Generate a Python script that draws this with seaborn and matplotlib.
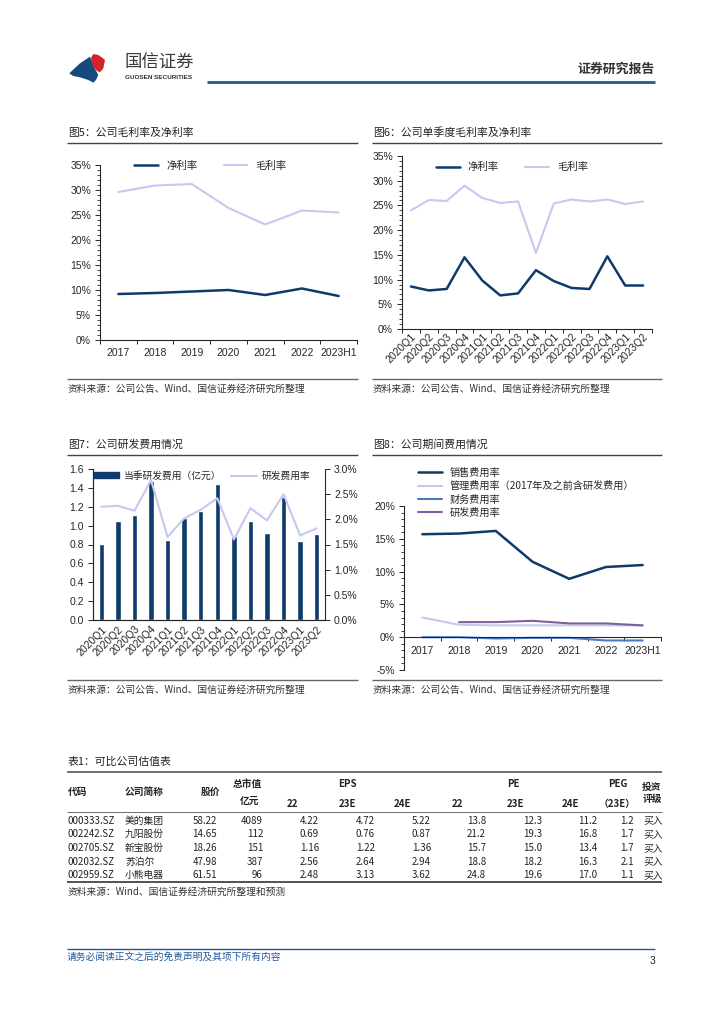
import numpy as np
import pandas as pd
import matplotlib
matplotlib.use('Agg')
import matplotlib.pyplot as plt
import seaborn as sns
from matplotlib.patches import Polygon, Patch
from matplotlib.lines import Line2D
from matplotlib.ticker import FuncFormatter, MultipleLocator, FixedLocator

# 数据
years = ['2017', '2018', '2019', '2020', '2021', '2022', '2023H1']
quarters = ['2020Q1', '2020Q2', '2020Q3', '2020Q4', '2021Q1', '2021Q2', '2021Q3',
            '2021Q4', '2022Q1', '2022Q2', '2022Q3', '2022Q4', '2023Q1', '2023Q2']

net_margin_y = [9.2, 9.4, 9.7, 10.0, 9.0, 10.3, 8.8]
gross_margin_y = [29.6, 30.9, 31.2, 26.4, 23.1, 25.9, 25.5]

net_margin_q = [8.6, 7.8, 8.1, 14.5, 9.8, 6.8, 7.2, 11.9, 9.7, 8.3, 8.1, 14.7, 8.8, 8.8]
gross_margin_q = [24.0, 26.1, 25.9, 29.0, 26.5, 25.5, 25.8, 15.4, 25.4, 26.2, 25.8, 26.2, 25.3, 25.8]

rd_expense_q = [0.81, 1.05, 1.11, 1.47, 0.85, 1.08, 1.15, 1.44, 0.89, 1.05, 0.92, 1.30, 0.84, 0.91]
rd_rate_q = [2.25, 2.27, 2.17, 2.78, 1.65, 2.02, 2.19, 2.42, 1.60, 2.22, 1.98, 2.50, 1.68, 1.82]

sales_rate = [15.7, 15.8, 16.2, 11.5, 8.9, 10.7, 11.0]
admin_rate = [3.0, 1.9, 1.8, 1.8, 1.8, 1.8, 1.8]
fin_rate = [0.0, 0.0, -0.2, -0.1, -0.1, -0.5, -0.5]
rd_rate_y = [np.nan, 2.3, 2.3, 2.5, 2.1, 2.1, 1.8]

# 表1
codes = ['000333.SZ', '002242.SZ', '002705.SZ', '002032.SZ', '002959.SZ']
names = ['美的集团', '九阳股份', '新宝股份', '苏泊尔', '小熊电器']
price = [58.22, 14.65, 18.26, 47.98, 61.51]
mktcap = [4089, 112, 151, 387, 96]
eps_22 = [4.22, 0.69, 1.16, 2.56, 2.48]
eps_23 = [4.72, 0.76, 1.22, 2.64, 3.13]
eps_24 = [5.22, 0.87, 1.36, 2.94, 3.62]
pe_22 = [13.8, 21.2, 15.7, 18.8, 24.8]
pe_23 = [12.3, 19.3, 15.0, 18.2, 19.6]
pe_24 = [11.2, 16.8, 13.4, 16.3, 17.0]
peg_23 = [1.2, 1.7, 1.7, 2.1, 1.1]
rating = ['买入', '买入', '买入', '买入', '买入']

NAVY = '#0e3a6c'
LAV = '#c6c8f0'
BLUE = '#4a78c8'
PURPLE = '#7d5f9e'
BRAND = '#1f5a96'

sns.set_style('ticks')
plt.rcParams['font.family'] = ['Liberation Sans', 'Noto Sans CJK SC']
plt.rcParams['axes.linewidth'] = 0.8
plt.rcParams['xtick.labelsize'] = 7.5
plt.rcParams['ytick.labelsize'] = 7.5
CJK = ['Noto Sans CJK SC', 'Liberation Sans']

W, H = 724, 1024
fig = plt.figure(figsize=(7.24, 10.24), dpi=100)

# 页面底层（像素坐标）
bg = fig.add_axes([0, 0, 1, 1])
bg.set_xlim(0, W)
bg.set_ylim(H, 0)
bg.axis('off')


def rect(l, t, r, b):
    return [l / W, 1 - b / H, (r - l) / W, (b - t) / H]


def hline(x0, x1, y, lw=1.0, color='#555555'):
    bg.plot([x0, x1], [y, y], color=color, lw=lw, solid_capstyle='butt')


# 页眉
bg.add_patch(Polygon([(69.3, 73.3), (80, 63.3), (90, 56.7), (91.7, 60.7), (93.3, 66),
                      (96, 70.7), (98.3, 75), (96, 80), (93.3, 82.7), (88.3, 80),
                      (80, 77.3), (73.3, 76)], closed=True, color='#17497e', lw=0))
bg.add_patch(Polygon([(91, 58), (93.3, 54), (98.3, 55), (101.7, 57.3), (105, 60),
                      (103.3, 68.3), (100, 72.3), (96.7, 70.7), (93.3, 66.7),
                      (91.7, 61.7)], closed=True, color='#d2232a', lw=0))
bg.text(125, 63, '国信证券', fontsize=12.5, color='#3a3a3a', va='center', ha='left', family=CJK)
bg.text(125, 77.5, 'GUOSEN SECURITIES', fontsize=4.6, weight='bold', color='#333333',
        va='center', ha='left')
hline(207, 655, 82, lw=2.0, color=BRAND)
bg.text(655, 69, '证券研究报告', fontsize=9.3, weight='bold', color='#333333',
        va='center', ha='right', family=CJK)

# 图标题与来源
src = '资料来源：公司公告、Wind、国信证券经济研究所整理'
for x0, x1, ty, title in [(67, 358, 133, '图5：公司毛利率及净利率'),
                          (372, 662, 133, '图6：公司单季度毛利率及净利率'),
                          (67, 358, 445, '图7：公司研发费用情况'),
                          (372, 662, 445, '图8：公司期间费用情况')]:
    bg.text(x0 + 1, ty, title, fontsize=7.8, color='#222222', va='center', ha='left', family=CJK)
    hline(x0, x1, ty + 10, lw=1.0, color='#444444')
    sy = 379 if ty < 300 else 680
    hline(x0, x1, sy, lw=1.0, color='#666666')
    bg.text(x0 + 1, sy + 9.5, src, fontsize=7, color='#333333', va='center', ha='left', family=CJK)

pct0 = FuncFormatter(lambda v, p: f'{v:.0f}%')


def style_cat_axis(ax, n):
    ax.set_xlim(-0.5, n - 0.5)
    ax.xaxis.set_minor_locator(FixedLocator(np.arange(-0.5, n, 1.0)))
    ax.tick_params(axis='x', which='major', length=0, pad=6)
    ax.tick_params(axis='x', which='minor', length=3, width=0.7, direction='out')
    ax.tick_params(axis='y', which='major', length=3.5, width=0.7, direction='out', pad=3)
    ax.tick_params(axis='y', which='minor', length=2, width=0.6, direction='out')
    ax.set_xlabel('')
    ax.set_ylabel('')


# 图5
ax5 = fig.add_axes(rect(100, 165, 357, 340))
df5 = pd.DataFrame({'year': years, 'net': net_margin_y, 'gross': gross_margin_y})
sns.lineplot(data=df5, x='year', y='net', ax=ax5, color=NAVY, lw=1.8, label='净利率')
sns.lineplot(data=df5, x='year', y='gross', ax=ax5, color=LAV, lw=1.5, label='毛利率')
ax5.set_ylim(0, 35)
ax5.yaxis.set_major_locator(MultipleLocator(5))
ax5.yaxis.set_minor_locator(MultipleLocator(1))
ax5.yaxis.set_major_formatter(pct0)
style_cat_axis(ax5, len(years))
sns.despine(ax=ax5)
ax5.legend(ncol=2, frameon=False, loc='center', bbox_to_anchor=(0.43, 0.995),
           handlelength=2.3, columnspacing=2.5, prop={'family': CJK, 'size': 7.5})

# 图6
ax6 = fig.add_axes(rect(402, 156, 652, 329))
df6 = pd.DataFrame({'q': quarters, 'net': net_margin_q, 'gross': gross_margin_q})
sns.lineplot(data=df6, x='q', y='net', ax=ax6, color=NAVY, lw=1.8, label='净利率')
sns.lineplot(data=df6, x='q', y='gross', ax=ax6, color=LAV, lw=1.5, label='毛利率')
ax6.set_ylim(0, 35)
ax6.yaxis.set_major_locator(MultipleLocator(5))
ax6.yaxis.set_minor_locator(MultipleLocator(1))
ax6.yaxis.set_major_formatter(pct0)
style_cat_axis(ax6, len(quarters))
ax6.tick_params(axis='x', which='major', pad=2)
plt.setp(ax6.get_xticklabels(), rotation=45, ha='right', rotation_mode='anchor')
sns.despine(ax=ax6)
ax6.legend(ncol=2, frameon=False, loc='center', bbox_to_anchor=(0.44, 0.935),
           handlelength=2.3, columnspacing=2.5, prop={'family': CJK, 'size': 7.5})

# 图7
ax7 = fig.add_axes(rect(93, 469, 325, 620))
df7 = pd.DataFrame({'q': quarters, 'rd': rd_expense_q, 'rate': rd_rate_q})
sns.barplot(data=df7, x='q', y='rd', ax=ax7, color=NAVY, width=0.33, saturation=1)
ax7.set_ylim(0, 1.6)
ax7.yaxis.set_major_locator(MultipleLocator(0.2))
ax7.yaxis.set_major_formatter(FuncFormatter(lambda v, p: f'{v:.1f}'))
style_cat_axis(ax7, len(quarters))
ax7.tick_params(axis='x', which='minor', length=0)
ax7.tick_params(axis='x', which='major', length=0, pad=3)
plt.setp(ax7.get_xticklabels(), rotation=45, ha='right', rotation_mode='anchor')
ax7r = ax7.twinx()
sns.lineplot(data=df7, x='q', y='rate', ax=ax7r, color=LAV, lw=1.5)
ax7r.set_ylim(0, 3.0)
ax7r.yaxis.set_major_locator(MultipleLocator(0.5))
ax7r.yaxis.set_major_formatter(FuncFormatter(lambda v, p: f'{v:.1f}%'))
ax7r.tick_params(axis='y', length=3.5, width=0.7, direction='out', pad=3)
ax7r.set_ylabel('')
ax7r.set_xlim(-0.5, len(quarters) - 0.5)
for a in (ax7, ax7r):
    a.spines['top'].set_visible(False)
ax7.spines['right'].set_visible(False)
ax7.legend(handles=[Patch(color=NAVY, label='当季研发费用（亿元）'),
                    Line2D([], [], color=LAV, lw=1.5, label='研发费用率')],
           ncol=2, frameon=False, loc='center', bbox_to_anchor=(0.47, 0.955),
           handlelength=2.6, handleheight=0.6, handletextpad=0.5, columnspacing=1.0,
           prop={'family': CJK, 'size': 7})

# 图8
ax8 = fig.add_axes(rect(404, 506, 661, 670))
df8 = pd.DataFrame({'year': years, 'sales': sales_rate, 'admin': admin_rate,
                    'fin': fin_rate, 'rd': rd_rate_y})
sns.lineplot(data=df8, x='year', y='sales', ax=ax8, color=NAVY, lw=1.8, label='销售费用率')
sns.lineplot(data=df8, x='year', y='admin', ax=ax8, color=LAV, lw=1.5,
             label='管理费用率（2017年及之前含研发费用）')
sns.lineplot(data=df8, x='year', y='fin', ax=ax8, color=BLUE, lw=1.5, label='财务费用率')
sns.lineplot(data=df8, x='year', y='rd', ax=ax8, color=PURPLE, lw=1.5, label='研发费用率')
ax8.set_ylim(-5, 20)
ax8.yaxis.set_major_locator(MultipleLocator(5))
ax8.yaxis.set_minor_locator(MultipleLocator(1))
ax8.yaxis.set_major_formatter(pct0)
style_cat_axis(ax8, len(years))
sns.despine(ax=ax8)
ax8.spines['bottom'].set_position(('data', 0))
ax8.legend(frameon=False, loc='upper left', bbox_to_anchor=(0.02, 1.29),
           handlelength=2.3, labelspacing=0.32, prop={'family': CJK, 'size': 7.3})

# 表1
bg.text(68, 762, '表1：可比公司估值表', fontsize=7.8, color='#222222', va='center', ha='left', family=CJK)
hline(67, 662, 771.5, lw=1.2, color='#555555')
hline(67, 662, 812, lw=0.6, color='#555555')
hline(67, 662, 882, lw=1.3, color='#444444')
hk = dict(fontsize=7, weight='bold', color='#222222', va='center', family=CJK)
bg.text(68, 792, '代码', ha='left', **hk)
bg.text(125, 792, '公司简称', ha='left', **hk)
bg.text(210, 792, '股价', ha='center', **hk)
bg.text(247, 784, '总市值', ha='center', **hk)
bg.text(250, 801, '亿元', ha='center', **hk)
bg.text(347, 784, 'EPS', ha='center', **hk)
bg.text(513, 784, 'PE', ha='center', **hk)
bg.text(618, 784, 'PEG', ha='center', **hk)
bg.text(652, 787, '投资', ha='center', **hk)
bg.text(652, 799, '评级', ha='center', **hk)
for xc, lab in [(292, '22'), (347, '23E'), (402, '24E'), (457, '22'), (515, '23E'),
                (570, '24E'), (617, '（23E）')]:
    bg.text(xc, 804, lab, ha='center', **hk)

dk = dict(fontsize=7, color='#222222', va='center', family=CJK)
cols = [(217, price, '{:.2f}'), (263, mktcap, '{:d}'), (319, eps_22, '{:.2f}'),
        (375, eps_23, '{:.2f}'), (431, eps_24, '{:.2f}'), (486, pe_22, '{:.1f}'),
        (542, pe_23, '{:.1f}'), (597, pe_24, '{:.1f}'), (634, peg_23, '{:.1f}')]
for i in range(len(codes)):
    yy = 820.5 + 13.7 * i
    bg.text(68, yy, codes[i], ha='left', **dk)
    bg.text(125, yy, names[i], ha='left', **dk)
    for xr, vals, fmt in cols:
        bg.text(xr, yy, fmt.format(vals[i]), ha='right', **dk)
    bg.text(653, yy, rating[i], ha='center', **dk)
bg.text(68, 892, '资料来源：Wind、国信证券经济研究所整理和预测', fontsize=7, color='#333333',
        va='center', ha='left', family=CJK)

# 页脚
hline(67, 655, 949, lw=1.0, color=BRAND)
bg.text(67, 957, '请务必阅读正文之后的免责声明及其项下所有内容', fontsize=7, color=BRAND,
        style='italic', va='center', ha='left', family=CJK)
bg.text(655, 961, '3', fontsize=7.5, color='#222222', va='center', ha='right')

fig.savefig('out.png', dpi=100)
